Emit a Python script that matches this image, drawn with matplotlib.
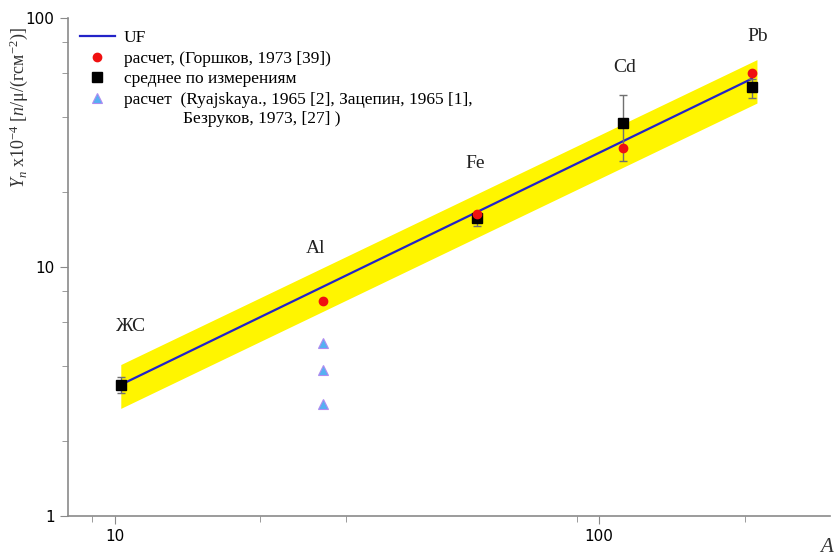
import matplotlib.pyplot as plt
import numpy as np

plt.rcParams['font.family'] = ['Liberation Serif', 'DejaVu Serif']
plt.rcParams['mathtext.fontset'] = 'custom'
plt.rcParams['mathtext.rm'] = 'Liberation Serif'
plt.rcParams['mathtext.it'] = 'Liberation Serif:italic'

# element labels and where they sit
elements = ["ЖС", "Al", "Fe", "Cd", "Pb"]
label_A = [10.8, 26.0, 55.6, 113.0, 213.0]
label_Y = [5.75, 11.9, 26.1, 63.5, 84.0]

# UF fit and its +-20% corridor
uf_A = [10.3, 207.0]
uf_Y = [3.36, 57.0]
band_A = [10.3, 212.0]
band_lo = [2.70, 45.5]
band_hi = [4.05, 68.0]

# calculation (Gorshkov)
calc_A = [27.0, 56.0, 112.0, 207.0]
calc_Y = [7.3, 16.3, 30.0, 60.0]

# measured mean with errors
meas_A = [10.3, 56.0, 112.0, 207.0]
meas_Y = [3.35, 15.7, 38.0, 53.0]
meas_lo = [0.25, 1.1, 11.3, 5.5]
meas_hi = [0.25, 0.8, 11.0, 4.0]

# other calculations for Al
tri_A = [27.0, 27.0, 27.0]
tri_Y = [4.95, 3.85, 2.8]

fig = plt.figure(figsize=(8.35, 5.6), dpi=100)
ax = fig.add_axes([0.081, 0.079, 0.913, 0.889])
ax.set_xscale('log')
ax.set_yscale('log')
ax.set_xlim(8, 300)
ax.set_ylim(1, 100)

ax.fill_between(band_A, band_lo, band_hi, color='#FFF500', linewidth=0, zorder=1)
ax.plot(uf_A, uf_Y, color='#2323C8', lw=1.6, zorder=3, label='UF')
ax.plot(calc_A, calc_Y, 'o', color='#F01010', ms=6, zorder=5,
        label='расчет, (Горшков, 1973 [39])')
ax.errorbar(meas_A, meas_Y, yerr=[meas_lo, meas_hi], fmt='none',
            ecolor='#707070', elinewidth=1, capsize=3, zorder=4)
ax.plot(meas_A, meas_Y, 's', color='black', ms=7, zorder=4,
        label='среднее по измерениям')
ax.plot(tri_A, tri_Y, '^', color='#55B0F2', mec='#B08CF0', mew=0.8, ms=6.5,
        zorder=5, label='расчет  (Ryajskaya., 1965 [2], Зацепин, 1965 [1],')

for name, xa, ya in zip(elements, label_A, label_Y):
    ax.text(xa, ya, name, fontsize=14, ha='center', va='center', color='#222222')

for s in ['top', 'right']:
    ax.spines[s].set_visible(False)
for s in ['left', 'bottom']:
    ax.spines[s].set_color('#8a8a8a')
    ax.spines[s].set_linewidth(1.2)

ax.set_xticks([10, 100])
ax.set_xticklabels(['10', '100'])
ax.set_xticks([9, 20, 30, 90, 200], minor=True)
ax.set_yticks([1, 10, 100])
ax.set_yticklabels(['1', '10', '100'])
ax.set_yticks([2, 4, 6, 8, 20, 40, 60, 80], minor=True)
ax.tick_params(which='both', color='#8a8a8a', labelsize=12)
ax.tick_params(which='major', length=6)
ax.tick_params(which='minor', length=4, labelleft=False, labelbottom=False)
for lbl in ax.get_xticklabels() + ax.get_yticklabels():
    lbl.set_family('DejaVu Sans')
    lbl.set_fontsize(11)

ax.set_ylabel(r'$Y_n$ x10$^{-4}$ [$n$/μ/(гсм$^{-2}$)]', fontsize=13, color='#333333')
ax.yaxis.set_label_coords(-0.05, 0.82)
fig.text(0.99, 0.005, 'A', fontsize=15, style='italic', ha='center', va='bottom',
         color='#333333')

ax.legend(loc='upper left', bbox_to_anchor=(0.0, 1.0), frameon=False, fontsize=12.5,
          handlelength=2.0, handletextpad=0.55, labelspacing=0.25, borderaxespad=0.3)
# continuation line of the last legend entry
ax.text(0.151, 0.797, 'Безруков, 1973, [27] )', transform=ax.transAxes,
        fontsize=12.5, va='center', ha='left')

plt.savefig('out.png')
